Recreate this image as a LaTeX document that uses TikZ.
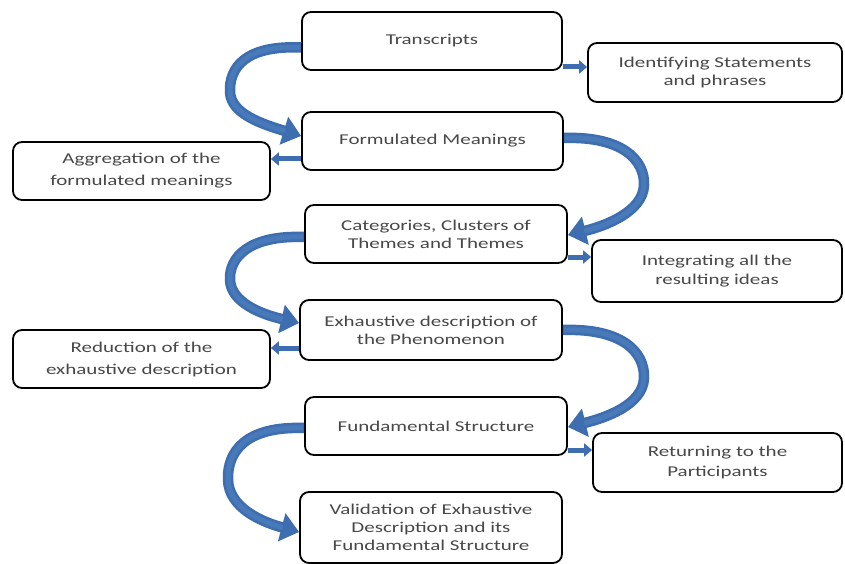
\documentclass[tikz,border=0pt]{standalone}
\usepackage{fontspec}
\setmainfont{Carlito}[FakeStretch=1.4]
\usetikzlibrary{arrows.meta}
\definecolor{arrowblue}{RGB}{62,110,176}
\definecolor{arrowlight}{RGB}{72,122,186}
\definecolor{txt}{RGB}{72,72,72}
\begin{document}
\begin{tikzpicture}[x=1pt,y=-1pt,
  box/.style={draw=black, line width=1.8pt, rounded corners=9pt, fill=white,
    align=center, text=txt, font=\fontsize{15}{18}\selectfont, inner sep=0pt},
  sidebox/.style={box, font=\fontsize{15}{22}\selectfont},
  bigarrow/.style={draw=arrowblue, line width=10.5pt, -{Triangle[length=18pt,width=28pt]}},
  shine/.style={draw=arrowlight, line width=5pt, shorten >=17pt, shorten <=1pt},
  smallarrow/.style={draw=arrowblue, line width=5pt, -{Triangle[length=8pt,width=13pt]}}]
\fill[white] (0,0) rectangle (845,564);
\useasboundingbox (0,0) rectangle (845,564);
% main column
\node[box, minimum width=260pt, minimum height=58pt] (T) at (432,41) {Transcripts};
\node[box, minimum width=261pt, minimum height=58pt] (FM) at (432.5,141) {Formulated Meanings};
\node[box, minimum width=262pt, minimum height=58pt] (CAT) at (436,234) {Categories, Clusters of\\Themes and Themes};
\node[box, minimum width=262pt, minimum height=60pt] (EX) at (431,330) {Exhaustive description of\\the Phenomenon};
\node[box, minimum width=262pt, minimum height=58pt] (FS) at (436,426) {Fundamental Structure};
\node[box, minimum width=262pt, minimum height=71pt] (VAL) at (431,527.5) {Validation of Exhaustive\\Description and its\\Fundamental Structure};
% side boxes
\node[box, minimum width=254pt, minimum height=59pt] (ID) at (715,72.5) {Identifying Statements\\and phrases};
\node[sidebox, minimum width=257pt, minimum height=58pt] (AG) at (141.5,171) {Aggregation of the\\formulated meanings};
\node[box, font=\fontsize{15}{19}\selectfont, minimum width=250pt, minimum height=62pt] (INT) at (717,271) {Integrating all the\\resulting ideas};
\node[sidebox, minimum width=257pt, minimum height=58pt] (RED) at (141.5,359) {Reduction of the\\exhaustive description};
\node[box, font=\fontsize{15}{20}\selectfont, minimum width=249pt, minimum height=59pt] (RET) at (717.5,462.5) {Returning to the\\Participants};
% curved arrows
\foreach \st in {bigarrow, shine}{
\draw[\st] (T.west |- 0,47.5) .. controls (245,45) and (229,68) .. (230,92)
  .. controls (231,114) and (262,124) .. (FM.west |- 0,136);
\draw[\st] (FM.east |- 0,138) .. controls (622,136) and (645,160) .. (644,185)
  .. controls (643,212) and (605,226) .. (CAT.east |- 0,235);
\draw[\st] (CAT.west |- 0,237) .. controls (248,235) and (229,258) .. (230,280)
  .. controls (231,302) and (260,314) .. (EX.west |- 0,323);
\draw[\st] (EX.east |- 0,330) .. controls (622,328) and (645,352) .. (644,378)
  .. controls (643,405) and (605,418) .. (FS.east |- 0,427);
\draw[\st] (FS.west |- 0,428) .. controls (245,426) and (227,452) .. (228,480)
  .. controls (229,508) and (262,522) .. (VAL.west |- 0,532);
}
% small arrows
\draw[smallarrow] (T.east |- 0,67) -- (ID.west |- 0,67);
\draw[smallarrow] (FM.west |- 0,159) -- (AG.east |- 0,159);
\draw[smallarrow] (CAT.east |- 0,257) -- (INT.west |- 0,257);
\draw[smallarrow] (EX.west |- 0,348) -- (RED.east |- 0,348);
\draw[smallarrow] (FS.east |- 0,450) -- (RET.west |- 0,450);
\end{tikzpicture}
\end{document}
